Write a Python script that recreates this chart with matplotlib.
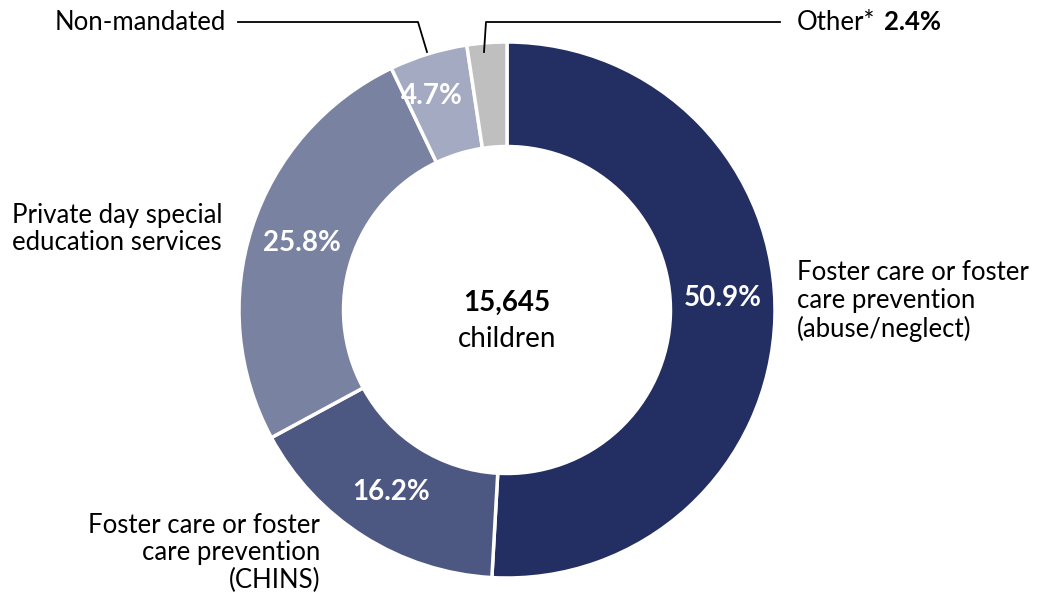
import numpy as np
import matplotlib.pyplot as plt

plt.rcParams['font.family'] = ['Lato', 'DejaVu Sans']

# -----------------------------
# DATA
# -----------------------------
categories = ["Foster care or foster\ncare prevention\n(abuse/neglect)",
              "Foster care or foster\ncare prevention\n(CHINS)",
              "Private day special\neducation services",
              "Non-mandated",
              "Other*"]
shares = [50.9, 16.2, 25.8, 4.7, 2.4]
colors = ["#232F62", "#4D5882", "#7A82A2", "#A5AAC3", "#BFBFBF"]
total_children = "15,645"

# -----------------------------
# FIGURE (axes in pixel units)
# -----------------------------
W, H = 1043, 600
fig = plt.figure(figsize=(W / 100, H / 100), dpi=100)
ax = fig.add_axes([0, 0, 1, 1])

cx, cy = 507, H - 310
R = 268
ring = 0.39

wedges, _ = ax.pie(shares, colors=colors, startangle=90, counterclock=False,
                   center=(cx, cy), radius=R, frame=True,
                   wedgeprops=dict(width=R * ring, edgecolor="white", linewidth=2.5))
ax.set_xlim(0, W)
ax.set_ylim(0, H)
ax.set_aspect("equal")
ax.axis("off")

# percent labels inside the ring
mid_r = R * (1 - ring / 2)
for w, val in zip(wedges[:4], shares[:4]):
    ang = np.deg2rad((w.theta1 + w.theta2) / 2)
    x = cx + mid_r * np.cos(ang)
    y = cy + mid_r * np.sin(ang)
    if val > 50:
        y += 18
    if val < 5:
        x -= 12
        y += 8
    ax.text(x, y, f"{val}%", color="white", fontsize=20, fontweight="bold",
            ha="center", va="center")

# center text
ax.text(cx, H - 303, total_children, fontsize=20, fontweight="bold", ha="center", va="center")
ax.text(cx, H - 339, "children", fontsize=20, ha="center", va="center")

# outer labels
fs = 18.5
ls = 1.13
ax.text(797, H - 301, categories[0], fontsize=fs, ha="left", va="center", linespacing=ls)
ax.text(320, H - 553, categories[1], fontsize=fs, ha="right", va="center",
        multialignment="right", linespacing=ls)
ax.text(12, H - 229, categories[2], fontsize=fs, ha="left", va="center", linespacing=ls)
ax.text(226, H - 22, categories[3], fontsize=fs, ha="right", va="center")
ax.text(797, H - 22, categories[4], fontsize=fs, ha="left", va="center")
ax.text(884, H - 22, f"{shares[4]}%", fontsize=fs, fontweight="bold", ha="left", va="center")

# leader lines
ax.plot([238, 418, 427], [H - 22, H - 22, H - 52], color="black", lw=1.3)
ax.plot([484, 486, 780], [H - 52, H - 22, H - 22], color="black", lw=1.3)

fig.savefig("out.png", dpi=100)
